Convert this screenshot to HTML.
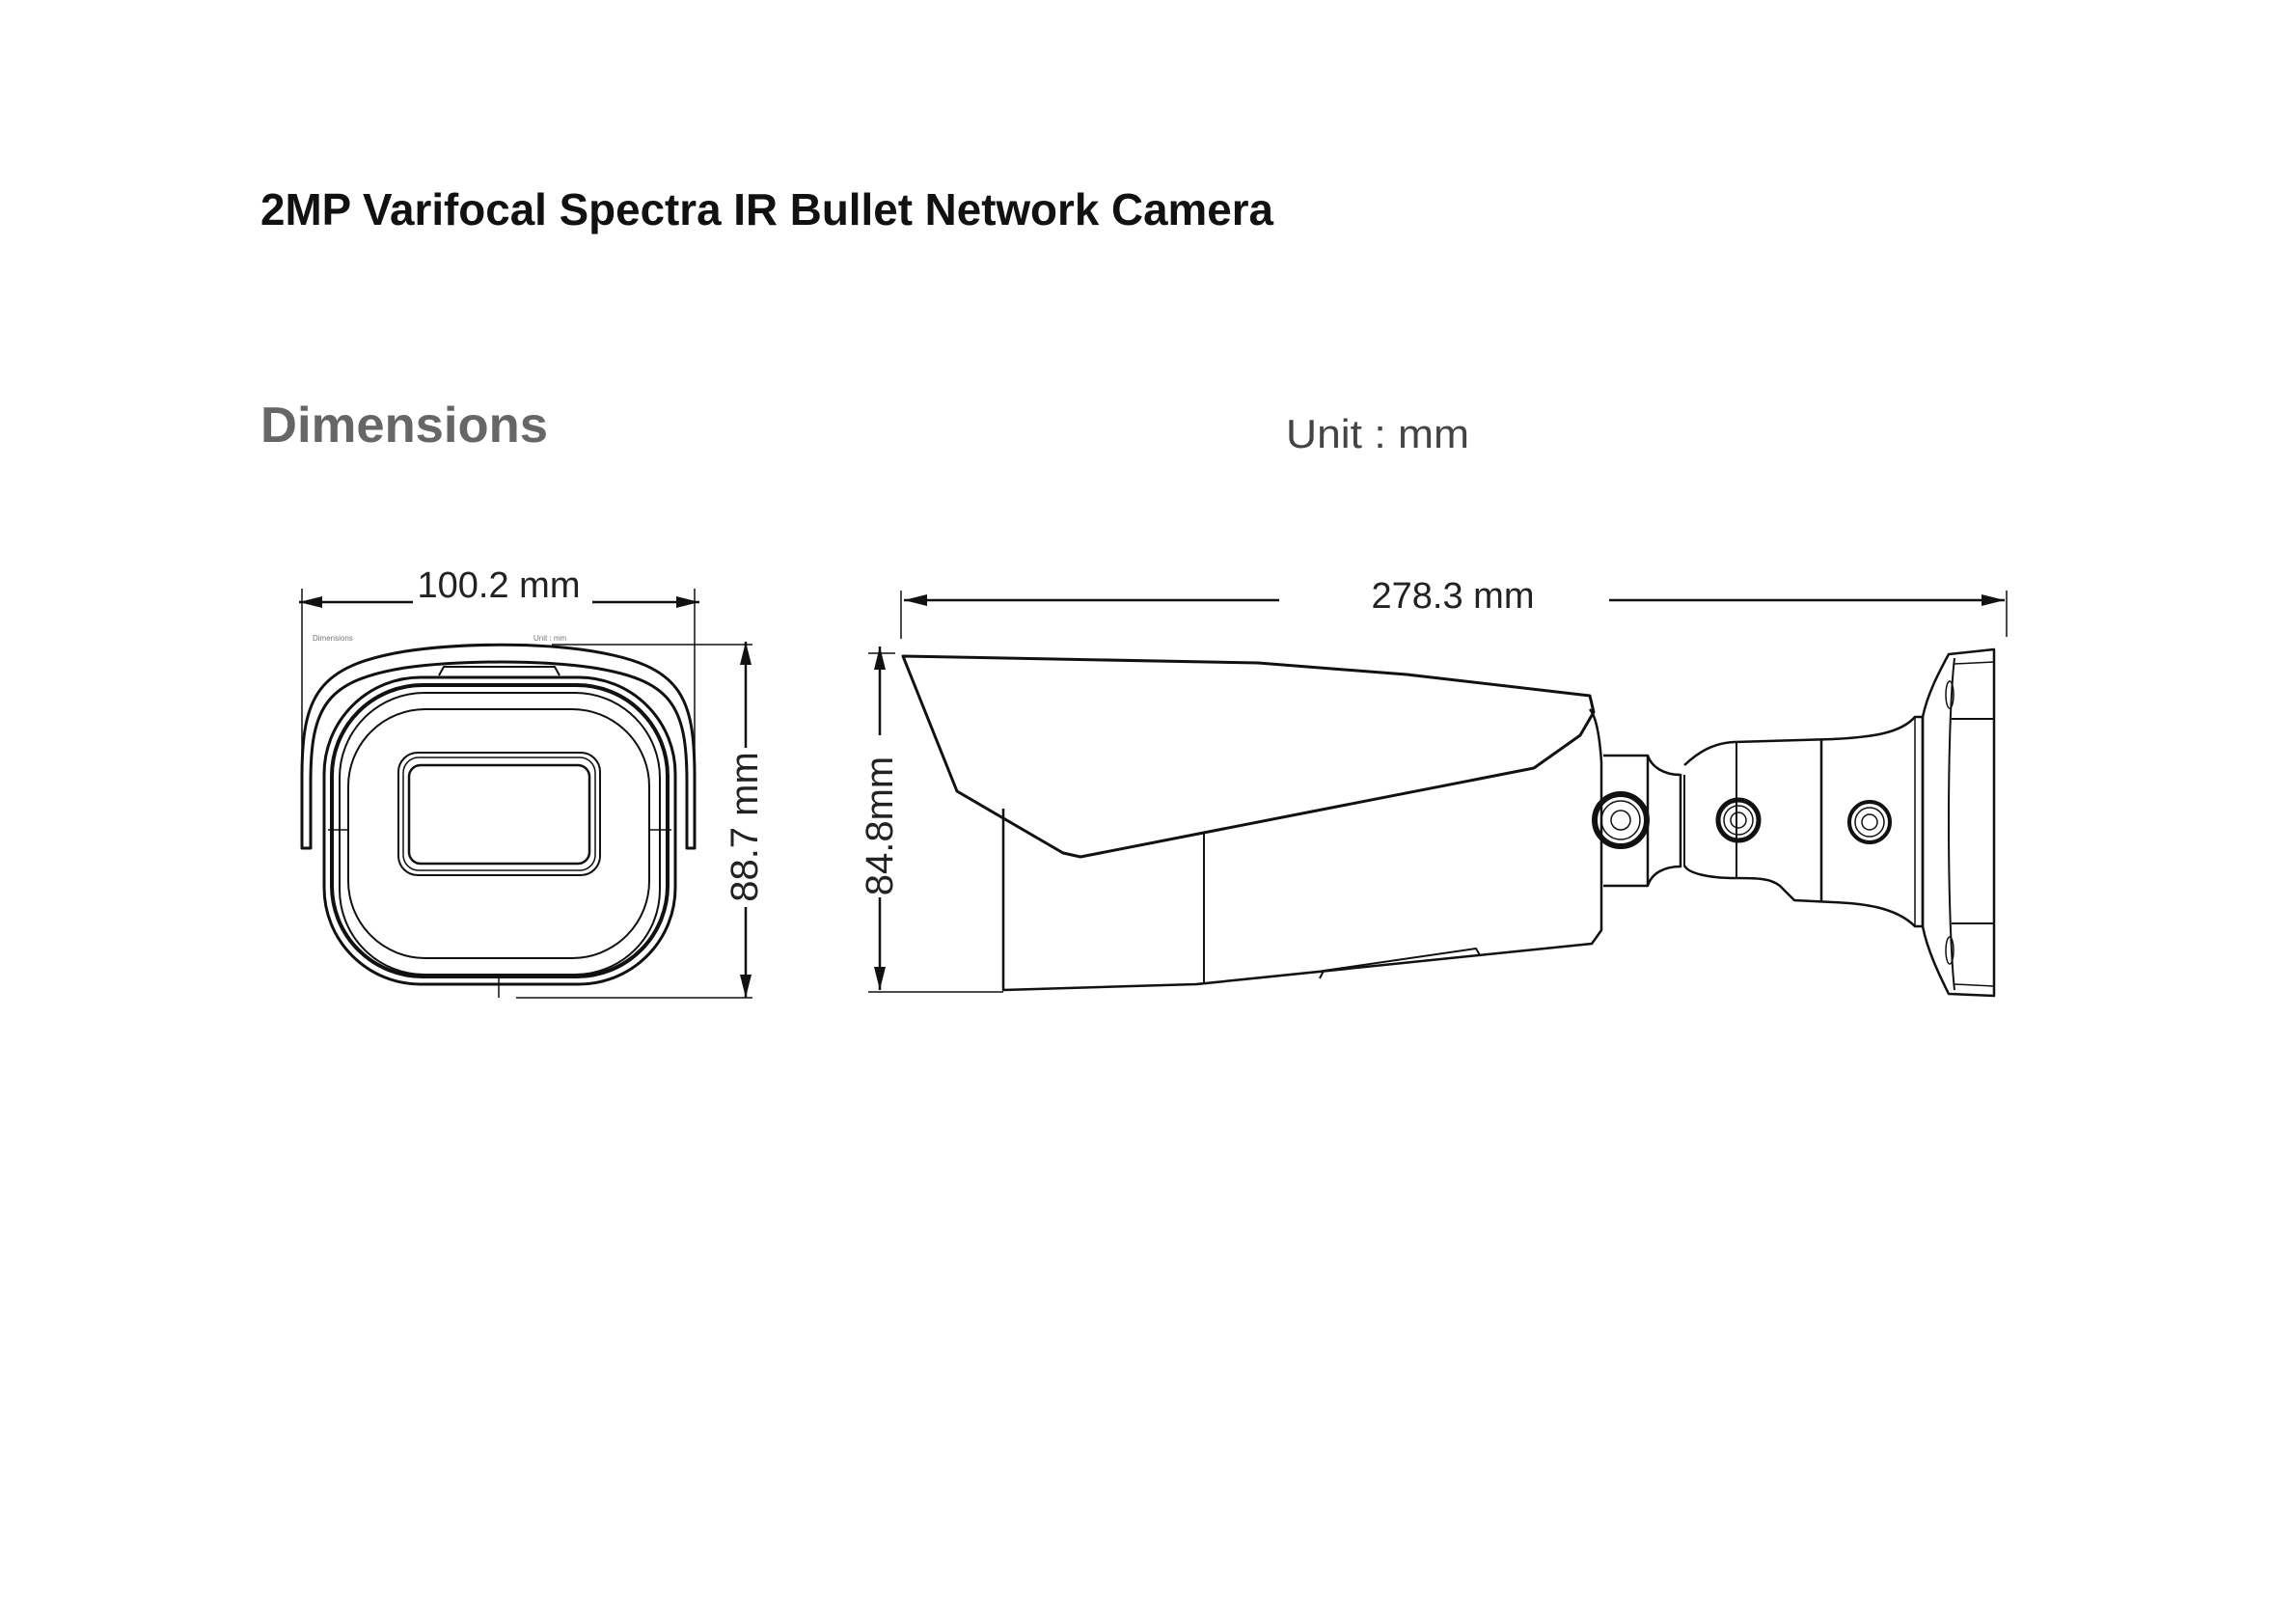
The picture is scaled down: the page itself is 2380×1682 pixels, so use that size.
<!DOCTYPE html>
<html><head><meta charset="utf-8"><style>
html,body{margin:0;padding:0;background:#fff;}
svg{display:block;}
</style></head><body>
<svg width="2380" height="1682" viewBox="0 0 2380 1682" xmlns="http://www.w3.org/2000/svg">
<defs>
<marker id="ar2" viewBox="0 0 10 10" refX="10" refY="5" markerWidth="24" markerHeight="12" markerUnits="userSpaceOnUse" orient="auto-start-reverse" preserveAspectRatio="none">
<path d="M0,0 L10,5 L0,10 z" fill="#111"/></marker>
</defs>
<g font-family="Liberation Sans, sans-serif">
<text x="270" y="233" font-size="46" font-weight="bold" fill="#111" textLength="1050" lengthAdjust="spacingAndGlyphs">2MP Varifocal Spectra IR Bullet Network Camera</text>
<text x="270" y="458" font-size="52" font-weight="bold" fill="#666" textLength="298" lengthAdjust="spacingAndGlyphs">Dimensions</text>
<text x="1333" y="464" font-size="42" fill="#444" textLength="190" lengthAdjust="spacingAndGlyphs">Unit : mm</text>
</g>

<g fill="none" stroke="#111" stroke-width="2.5" stroke-linejoin="round">
<line x1="310" y1="624" x2="428" y2="624" marker-start="url(#ar2)"/>
<line x1="614" y1="624" x2="725" y2="624" marker-end="url(#ar2)"/>
<line x1="313" y1="610" x2="313" y2="879" stroke-width="1.5"/>
<line x1="720" y1="610" x2="720" y2="879" stroke-width="1.5"/>
<line x1="773" y1="665" x2="773" y2="775" marker-start="url(#ar2)"/>
<line x1="773" y1="940" x2="773" y2="1034" marker-end="url(#ar2)"/>
<line x1="572" y1="668" x2="780" y2="668" stroke-width="1.5"/>
<line x1="535" y1="1034" x2="780" y2="1034" stroke-width="1.5"/>

<path d="M313,879 L313,805 C313,720 330,690 420,675 C480,666 560,666 615,675 C705,690 720,720 720,805 L720,879 L712,879 L712,810 C712,730 695,705 615,692 C560,684 480,684 420,692 C340,705 322,730 322,810 L322,879 Z" stroke-width="3"/>
<path d="M455,700 L460,691 L575,691 L580,700" stroke-width="2"/>
<rect x="336" y="702" width="364" height="318" rx="100" stroke-width="3"/>
<rect x="344" y="710" width="348" height="302" rx="94" stroke-width="4"/>
<rect x="352" y="718" width="332" height="292" rx="88" stroke-width="2"/>
<line x1="340" y1="860" x2="362" y2="860" stroke-width="1.5"/>
<line x1="674" y1="860" x2="696" y2="860" stroke-width="1.5"/>
<line x1="517" y1="1012" x2="517" y2="1034" stroke-width="1.5"/>
<rect x="361" y="735" width="312" height="258" rx="80" stroke-width="2"/>
<rect x="413" y="780" width="209" height="127" rx="20" stroke-width="2"/>
<rect x="418" y="785" width="199" height="117" rx="16" stroke-width="1.5"/>
<rect x="424" y="793" width="187" height="102" rx="12" stroke-width="2.5"/>
</g>
<g font-family="Liberation Sans, sans-serif" fill="#222">
<text x="517" y="619" font-size="38" text-anchor="middle">100.2 mm</text>
<text x="324" y="664" font-size="8" fill="#777">Dimensions</text>
<text x="553" y="664" font-size="8" fill="#777">Unit : mm</text>
<text transform="translate(785,857) rotate(-90)" font-size="40" text-anchor="middle">88.7 mm</text>
</g>

<g fill="none" stroke="#111" stroke-width="2.5" stroke-linejoin="round">
<line x1="937" y1="622" x2="1326" y2="622" marker-start="url(#ar2)"/>
<line x1="1668" y1="622" x2="2078" y2="622" marker-end="url(#ar2)"/>
<line x1="934" y1="612" x2="934" y2="662" stroke-width="1.5"/>
<line x1="2080" y1="612" x2="2080" y2="660" stroke-width="1.5"/>
<line x1="912" y1="670" x2="912" y2="762" marker-start="url(#ar2)"/>
<line x1="912" y1="930" x2="912" y2="1026" marker-end="url(#ar2)"/>
<line x1="900" y1="677" x2="928" y2="677" stroke-width="1.5"/>
<line x1="900" y1="1028" x2="1040" y2="1028" stroke-width="1.5"/>

<path d="M936,680 L1304,687 L1458,699 L1648,721 L1652,738 L1638,762 L1590,796 L1120,888 L1102,884 L992,820 Z" stroke-width="3"/>
<path d="M1040,838 L1040,1026 L1240,1020 L1650,978 L1660,964 L1660,790 C1658,760 1654,742 1648,735" stroke-width="2.5"/>
<line x1="1248" y1="862" x2="1248" y2="1020" stroke-width="2"/>
<path d="M1368,1014 L1372,1006 L1530,983 L1534,990" stroke-width="2"/>
<path d="M1662,783 L1708,783 C1712,795 1725,803 1742,803 L1742,898 C1725,898 1712,905 1708,918 L1662,918" stroke-width="2.5"/>
<line x1="1708" y1="783" x2="1708" y2="918"/>
<line x1="1746" y1="803" x2="1746" y2="898" stroke-width="2"/>
<path d="M1746,793 C1760,780 1775,770 1798,769 L1900,766 C1940,764 1970,760 1985,743 L1993,743 L1993,960 L1985,960 C1965,940 1930,936 1900,935 L1860,933 L1845,918 C1835,910 1820,910 1800,910 C1770,910 1750,905 1746,897" stroke-width="2.5"/>
<line x1="1800" y1="770" x2="1800" y2="910" stroke-width="2"/>
<line x1="1888" y1="767" x2="1888" y2="935" stroke-width="2.5"/>
<line x1="1985" y1="743" x2="1985" y2="960" stroke-width="1.5"/>
<path d="M2020,678 L2067,673 L2067,1032 L2020,1030 C2010,1010 1998,985 1993,960 L1993,743 C1998,720 2008,700 2020,678 Z" stroke-width="2.5"/>
<path d="M2026,682 C2018,750 2018,950 2026,1026" stroke-width="2"/>
<line x1="2023" y1="745" x2="2067" y2="745" stroke-width="2"/>
<line x1="2023" y1="957" x2="2067" y2="957" stroke-width="2"/>
<line x1="2026" y1="688" x2="2067" y2="686" stroke-width="1.5"/>
<line x1="2026" y1="1020" x2="2067" y2="1022" stroke-width="1.5"/>
<ellipse cx="2021" cy="720" rx="4" ry="14" stroke-width="1.5"/>
<ellipse cx="2021" cy="985" rx="4" ry="14" stroke-width="1.5"/>
<circle cx="1680" cy="850" r="27" stroke-width="6"/>
<circle cx="1680" cy="850" r="20" stroke-width="1.5"/>
<circle cx="1680" cy="850" r="10" stroke-width="1.5"/>
<circle cx="1802" cy="850" r="21" stroke-width="5"/>
<circle cx="1802" cy="850" r="15" stroke-width="1.5"/>
<circle cx="1802" cy="850" r="8" stroke-width="1.5"/>
<circle cx="1938" cy="852" r="21" stroke-width="4"/>
<circle cx="1938" cy="852" r="15" stroke-width="1.5"/>
<circle cx="1938" cy="852" r="8" stroke-width="1.5"/>
</g>
<g font-family="Liberation Sans, sans-serif" fill="#222">
<text x="1506" y="630" font-size="38" text-anchor="middle">278.3 mm</text>
<text transform="translate(925,856) rotate(-90)" font-size="40" text-anchor="middle">84.8mm</text>
</g>
</svg>
</body></html>
